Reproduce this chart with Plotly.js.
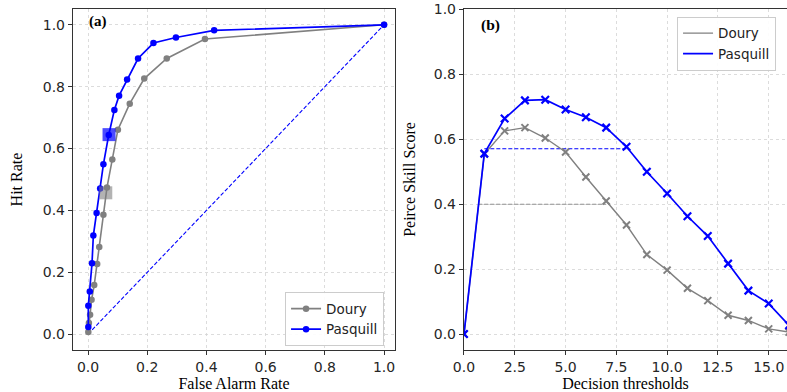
<!DOCTYPE html>
<html>
<head>
<meta charset="utf-8">
<script src="https://cdn.plot.ly/plotly-3.0.1.min.js"></script>
<style>html,body{margin:0;padding:0;background:#fff}#chart{width:787px;height:392px}</style>
</head>
<body>
<div id="chart"></div>
<script>
// ROC curve (panel a)
const douryFAR = [1.0, 0.395, 0.266, 0.190, 0.141, 0.101, 0.082, 0.064, 0.052, 0.038, 0.031, 0.021, 0.012, 0.007, 0.003, 0.001];
const douryHit = [1.0, 0.954, 0.891, 0.826, 0.745, 0.661, 0.565, 0.474, 0.386, 0.282, 0.227, 0.159, 0.111, 0.063, 0.036, 0.007];
const pasqFAR  = [1.0, 0.426, 0.297, 0.221, 0.169, 0.132, 0.105, 0.089, 0.070, 0.052, 0.041, 0.029, 0.018, 0.0135, 0.006, 0.001, 0.001];
const pasqHit  = [1.0, 0.982, 0.959, 0.941, 0.891, 0.823, 0.771, 0.725, 0.644, 0.549, 0.471, 0.392, 0.319, 0.229, 0.138, 0.092, 0.023];
const diagX = [0, 1];
const diagY = [0, 1];
const douryBestFAR = [0.060];
const douryBestHit = [0.457];
const pasqBestFAR = [0.071];
const pasqBestHit = [0.645];

// Peirce skill score (panel b)
const thresholds = [0, 1, 2, 3, 4, 5, 6, 7, 8, 9, 10, 11, 12, 13, 14, 15, 16];
const douryPSS = [0, 0.555, 0.626, 0.636, 0.604, 0.561, 0.484, 0.410, 0.336, 0.245, 0.197, 0.141, 0.103, 0.058, 0.042, 0.016, 0.006];
const pasqPSS  = [0, 0.556, 0.664, 0.720, 0.722, 0.692, 0.668, 0.636, 0.577, 0.500, 0.433, 0.363, 0.302, 0.217, 0.134, 0.094, 0.027];
const pasqRefX = [1, 8];
const pasqRefY = [0.571, 0.571];
const douryRefX = [0.70, 7];
const douryRefY = [0.40, 0.40];

const xTicksA = [0, 0.2, 0.4, 0.6, 0.8, 1.0];
const xTickTextA = ['0.0', '0.2', '0.4', '0.6', '0.8', '1.0'];
const xTicksB = [0, 2.5, 5, 7.5, 10, 12.5, 15];
const xTickTextB = ['0.0', '2.5', '5.0', '7.5', '10.0', '12.5', '15.0'];
const yTicks = [0, 0.2, 0.4, 0.6, 0.8, 1.0];
const yTickText = ['0.0', '0.2', '0.4', '0.6', '0.8', '1.0'];

const GRAY = '#808080';
const BLUE = '#0000ff';
const tickFont = {family: 'DejaVu Sans', size: 14, color: '#262626'};
const titleFont = {family: 'Liberation Serif', size: 16, color: '#000'};

const traces = [
  {x: diagX, y: diagY, xaxis: 'x', yaxis: 'y', mode: 'lines', line: {color: BLUE, width: 1.1, dash: '4px,2px'}, showlegend: false, hoverinfo: 'skip'},
  {x: douryFAR, y: douryHit, xaxis: 'x', yaxis: 'y', mode: 'lines+markers', name: 'Doury', legend: 'legend',
   line: {color: GRAY, width: 1.6}, marker: {color: GRAY, size: 6.5, symbol: 'circle'}},
  {x: pasqFAR, y: pasqHit, xaxis: 'x', yaxis: 'y', mode: 'lines+markers', name: 'Pasquill', legend: 'legend',
   line: {color: BLUE, width: 1.7}, marker: {color: BLUE, size: 6.5, symbol: 'circle'}},
  {x: douryBestFAR, y: douryBestHit, xaxis: 'x', yaxis: 'y', mode: 'markers', showlegend: false,
   marker: {color: GRAY, size: 13, symbol: 'square', opacity: 0.6}},
  {x: pasqBestFAR, y: pasqBestHit, xaxis: 'x', yaxis: 'y', mode: 'markers', showlegend: false,
   marker: {color: BLUE, size: 13, symbol: 'square', opacity: 0.7}},

  {x: douryRefX, y: douryRefY, xaxis: 'x2', yaxis: 'y2', mode: 'lines', line: {color: GRAY, width: 0.9, dash: '4px,2px'}, showlegend: false},
  {x: pasqRefX, y: pasqRefY, xaxis: 'x2', yaxis: 'y2', mode: 'lines', line: {color: BLUE, width: 1.1, dash: '4px,2px'}, showlegend: false},
  {x: thresholds, y: douryPSS, xaxis: 'x2', yaxis: 'y2', mode: 'lines+markers', showlegend: false,
   line: {color: GRAY, width: 1.4}, marker: {symbol: 'x-thin', size: 7, line: {color: GRAY, width: 2}}},
  {x: thresholds, y: pasqPSS, xaxis: 'x2', yaxis: 'y2', mode: 'lines+markers', showlegend: false,
   line: {color: BLUE, width: 1.7}, marker: {symbol: 'x-thin', size: 7.5, line: {color: BLUE, width: 2.2}}},
  {x: [null], y: [null], xaxis: 'x2', yaxis: 'y2', mode: 'lines', name: 'Doury', legend: 'legend2', line: {color: GRAY, width: 1.4}},
  {x: [null], y: [null], xaxis: 'x2', yaxis: 'y2', mode: 'lines', name: 'Pasquill', legend: 'legend2', line: {color: BLUE, width: 1.7}}
];

const axisCommon = {
  showline: true, linecolor: '#333', linewidth: 1.2,
  ticks: 'outside', ticklen: 4, tickwidth: 1, tickcolor: '#333',
  tickfont: tickFont, showgrid: true, gridcolor: '#d3d3d3', griddash: 'dot', gridwidth: 0.8,
  zeroline: false, automargin: false, ticklabeloverflow: 'allow'
};

const legendCommon = {
  bgcolor: 'rgba(255,255,255,0.9)', bordercolor: '#cccccc', borderwidth: 1,
  font: {family: 'DejaVu Sans', size: 13.5, color: '#222'},
  xanchor: 'left', yanchor: 'top', tracegroupgap: 0
};

const layout = {
  width: 787, height: 392,
  margin: {l: 73, r: 0, t: 9, b: 42},
  paper_bgcolor: '#fff', plot_bgcolor: '#fff',
  xaxis: Object.assign({}, axisCommon, {domain: [0, 0.451], range: [-0.0507, 1.037], tickvals: xTicksA, ticktext: xTickTextA, mirror: true,
    title: {text: 'False Alarm Rate', font: titleFont, standoff: 2}, anchor: 'y'}),
  yaxis: Object.assign({}, axisCommon, {domain: [0, 1], range: [-0.051, 1.051], tickvals: yTicks, ticktext: yTickText, mirror: true,
    title: {text: 'Hit Rate', font: titleFont, standoff: 16}, anchor: 'x'}),
  xaxis2: Object.assign({}, axisCommon, {domain: [0.5476, 1], range: [0, 15.9], tickvals: xTicksB, ticktext: xTickTextB, mirror: true,
    title: {text: 'Decision thresholds', font: titleFont, standoff: 2}, anchor: 'y2'}),
  yaxis2: Object.assign({}, axisCommon, {domain: [0, 1], range: [-0.049, 1.0015], tickvals: yTicks, ticktext: yTickText, mirror: false,
    title: {text: 'Peirce Skill Score', font: titleFont, standoff: 14}, anchor: 'x2'}),
  legend: Object.assign({}, legendCommon, {x: 0.297, y: 0.169}),
  legend2: Object.assign({}, legendCommon, {x: 0.846, y: 0.977}),
  annotations: [
    {text: '<b>(a)</b>', xref: 'paper', yref: 'paper', x: 0.020, y: 0.962, xanchor: 'left', yanchor: 'middle', showarrow: false,
     font: {family: 'Liberation Serif', size: 15, color: '#000'}},
    {text: '<b>(b)</b>', xref: 'paper', yref: 'paper', x: 0.568, y: 0.952, xanchor: 'left', yanchor: 'middle', showarrow: false,
     font: {family: 'Liberation Serif', size: 15.5, color: '#000'}}
  ],
  showlegend: true
};

Plotly.newPlot('chart', traces, layout, {displayModeBar: false, staticPlot: true});
</script>
</body>
</html>
